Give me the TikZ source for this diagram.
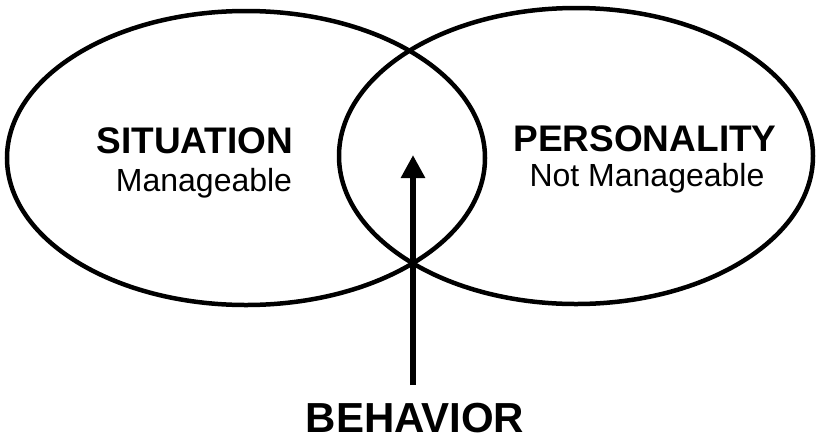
\documentclass[tikz,border=0pt]{standalone}
\usepackage{fontspec}
\setmainfont{Liberation Sans}
\usetikzlibrary{arrows.meta}

\tikzset{
    ring/.style={line width=4.5pt},
    heading/.style={anchor=base, inner sep=0pt, font=\bfseries\fontsize{37}{42}\selectfont},
    subheading/.style={anchor=base, inner sep=0pt, font=\fontsize{32}{38}\selectfont}
}

\begin{document}
\begin{tikzpicture}[x=1pt, y=-1pt]
        \useasboundingbox (0,0) rectangle (817,440);

        \coordinate (S) at (246,158);
        \coordinate (P) at (576,156);
        \coordinate (tip) at (413,155);
        \coordinate (tail) at (413,385);

        % the two sets
        \draw[ring] (S) ellipse [x radius=239, y radius=147];
        \draw[ring] (P) ellipse [x radius=237, y radius=148];

        \node[heading] (sit) at (195,153) {SITUATION};
        \node[subheading] (sitnote) at (204,191) {Manageable};

        \node[heading] (pers) at (645,151) {PERSONALITY};
        \node[subheading] (persnote) at (647,186) {Not Manageable};

        % overlap
        \node[heading, font=\bfseries\fontsize{42}{48}\selectfont] (beh) at (415,432) {BEHAVIOR};
        \draw[line width=6.5pt, -{Triangle[width=23pt, length=23pt]}] (tail) -- (tip);
    \end{tikzpicture}
\end{document}
